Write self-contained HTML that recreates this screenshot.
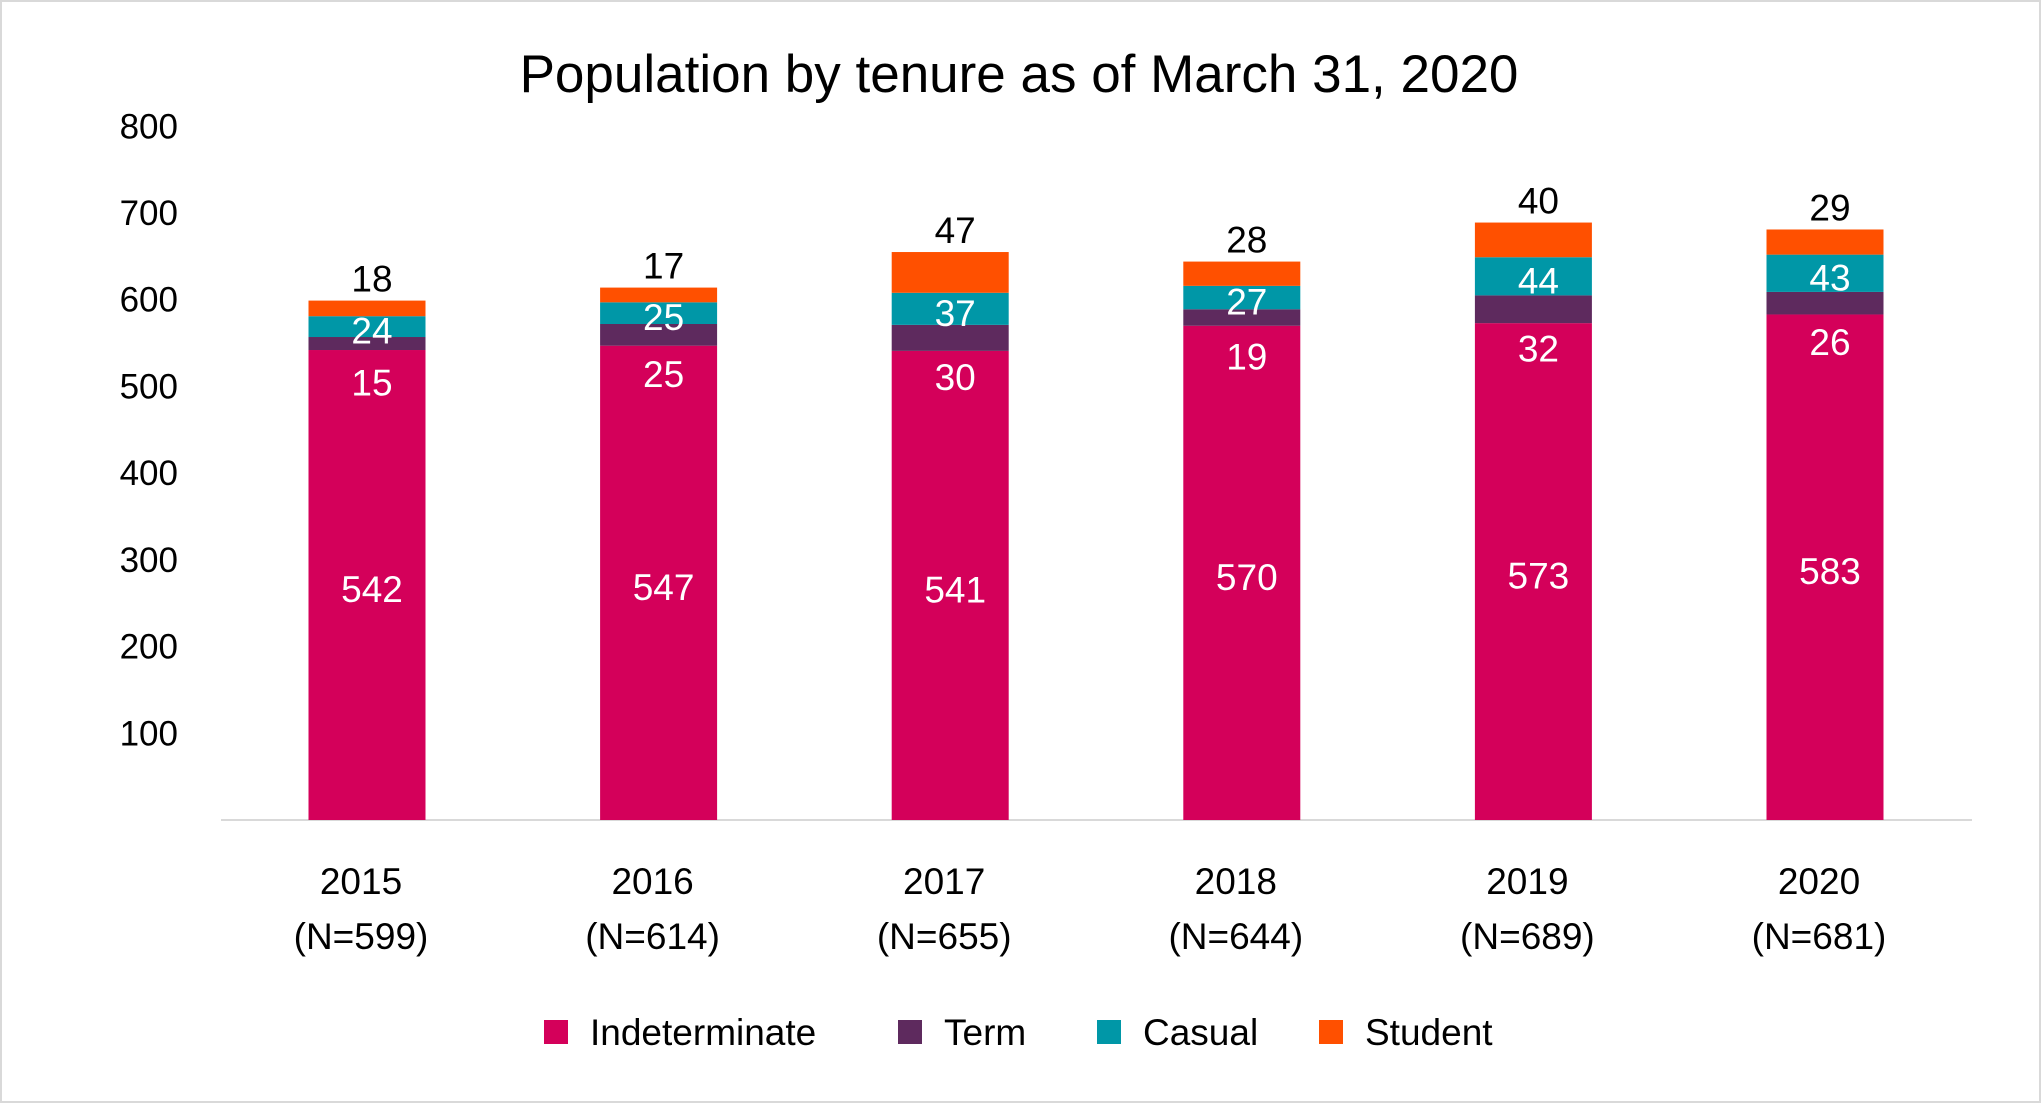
<!DOCTYPE html>
<html><head><meta charset="utf-8"><style>
body{margin:0;background:#fff;}
svg text{font-family:"Liberation Sans",sans-serif;}
</style></head><body>
<svg id="c" width="2041" height="1103" xmlns="http://www.w3.org/2000/svg">
<rect x="1" y="1" width="2039" height="1101" fill="#fff" stroke="#d9d9d9" stroke-width="2"/>
<text x="1019" y="92" font-size="53" text-anchor="middle" fill="#000">Population by tenure as of March 31, 2020</text>
</svg>
<script>
const categories=["2015","2016","2017","2018","2019","2020"];
const nLabels=["(N=599)","(N=614)","(N=655)","(N=644)","(N=689)","(N=681)"];
const indeterminate=[542,547,541,570,573,583];
const term=[15,25,30,19,32,26];
const casual=[24,25,37,27,44,43];
const student=[18,17,47,28,40,29];
const yTicks=[100,200,300,400,500,600,700,800];
const svg=document.getElementById('c');
const NS='http://www.w3.org/2000/svg';
const y0=820, yScale=(820-126.3)/800;
const Y=v=>y0-v*yScale;
const X=i=>367+i*291.6;
const bw=117;
function el(t,a,txt){const e=document.createElementNS(NS,t);for(const k in a)e.setAttribute(k,a[k]);if(txt!==undefined)e.textContent=txt;svg.appendChild(e);return e;}
yTicks.forEach(v=>{
 const t=el('text',{x:178,y:Y(v)+12,'font-size':35,'text-anchor':'end',fill:'#000'},v);
 
 
});
const ax=el('line',{x1:221,x2:1972,y1:y0,y2:y0,stroke:'#d9d9d9','stroke-width':2});


const series=[["indeterminate",indeterminate,"#D4005A"],["term",term,"#5E2A5E"],["casual",casual,"#0097A7"],["student",student,"#FF5000"]];
categories.forEach((c,i)=>{
 let base=0;
 series.forEach(([name,arr,col])=>{
  const v=arr[i];
  const r=el('rect',{x:X(i)-bw/2,y:Y(base+v),width:bw,height:v*yScale,fill:col});
  
  
  let ly, fill='#fff';
  const mid=(Y(base)+Y(base+v))/2;
  if(name==='indeterminate') ly=mid;
  else if(name==='term') ly=mid+35;
  else if(name==='casual') ly=mid;
  else {ly=Y(base+v)-26; fill='#000';}
  const t=el('text',{x:X(i)+5,y:ly+17,'font-size':37,'text-anchor':'middle',fill:fill},v);
  
  
  base+=v;
 });
 const a=el('text',{x:X(i)-6,y:894,'font-size':37,'text-anchor':'middle',fill:'#000'},c);
 
 
 const b=el('text',{x:X(i)-6,y:949,'font-size':37,'text-anchor':'middle',fill:'#000'},nLabels[i]);
 
 
});
const legend=[["Indeterminate","#D4005A",544],["Term","#5E2A5E",898],["Casual","#0097A7",1097],["Student","#FF5000",1319]];
legend.forEach(([n,col,x])=>{
 const r=el('rect',{x:x,y:1020,width:24,height:24,fill:col});
 
 
 const t=el('text',{x:x+46,y:1045,'font-size':37,fill:'#000'},n);
 
 
});
</script>
</body></html>
